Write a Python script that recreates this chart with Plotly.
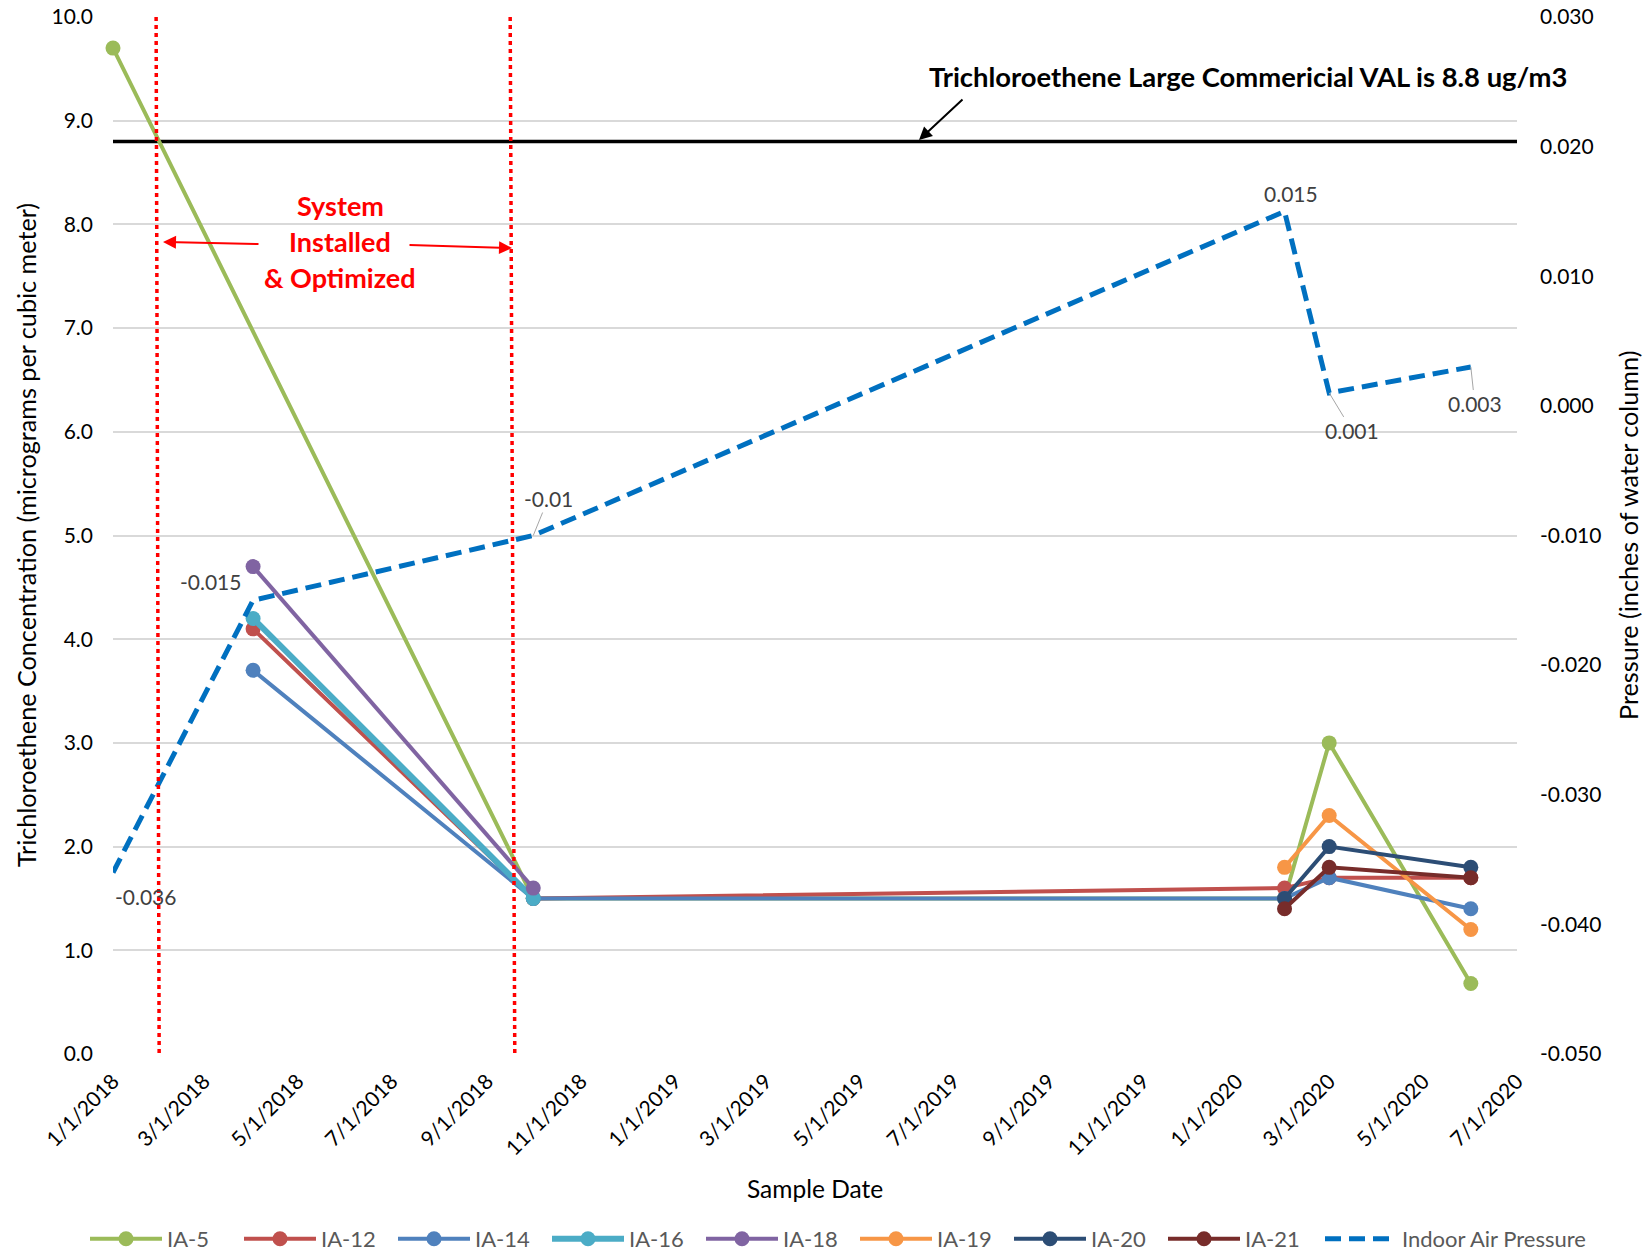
import plotly.graph_objects as go

# ---- sample data -------------------------------------------------------
dates_ia5 = ["2018-01-01", "2018-10-01", "2020-02-01", "2020-03-01", "2020-06-01"]
ia5 = [9.7, 1.5, 1.5, 3.0, 0.68]

dates_mid = ["2018-04-02", "2018-10-01", "2020-02-01", "2020-03-01", "2020-06-01"]
ia12 = [4.1, 1.5, 1.6, 1.7, 1.7]
ia14 = [3.7, 1.5, 1.5, 1.7, 1.4]

dates_2018 = ["2018-04-02", "2018-10-01"]
ia16 = [4.2, 1.5]
ia18 = [4.7, 1.6]

dates_2020 = ["2020-02-01", "2020-03-01", "2020-06-01"]
ia19 = [1.8, 2.3, 1.2]
ia20 = [1.5, 2.0, 1.8]
ia21 = [1.4, 1.8, 1.7]

pressure_dates = ["2018-01-01", "2018-04-02", "2018-10-01",
                  "2020-02-01", "2020-03-01", "2020-06-01"]
pressure = [-0.036, -0.015, -0.01, 0.015, 0.001, 0.003]

val_limit = 8.8
x_range = ["2018-01-01", "2020-07-01"]
system_window = [["2018-01-29", "2018-01-31"], ["2018-09-16", "2018-09-19"]]

left_ticks = [0, 1, 2, 3, 4, 5, 6, 7, 8, 9, 10]
right_ticks = [-0.05, -0.04, -0.03, -0.02, -0.01, 0.0, 0.01, 0.02, 0.03]

FONT = "Lato, 'Open Sans', sans-serif"

series = [
    ("IA-5", dates_ia5, ia5, "#9BBB59", 4),
    ("IA-12", dates_mid, ia12, "#C0504D", 4),
    ("IA-14", dates_mid, ia14, "#4F81BD", 4),
    ("IA-16", dates_2018, ia16, "#4BACC6", 6),
    ("IA-18", dates_2018, ia18, "#8064A2", 4),
    ("IA-19", dates_2020, ia19, "#F79646", 4),
    ("IA-20", dates_2020, ia20, "#2C4D75", 4),
    ("IA-21", dates_2020, ia21, "#772C2A", 4),
]

fig = go.Figure()

# VAL reference line
fig.add_trace(go.Scatter(
    x=x_range, y=[val_limit, val_limit], mode="lines",
    line=dict(color="black", width=3.5), showlegend=False, hoverinfo="skip",
    cliponaxis=False,
))

for name, xs, ys, color, lw in series:
    fig.add_trace(go.Scatter(
        x=xs, y=ys, name=name, mode="lines+markers",
        line=dict(color=color, width=lw),
        marker=dict(color=color, size=15),
        cliponaxis=False, legend="legend",
    ))

fig.add_trace(go.Scatter(
    x=pressure_dates, y=pressure, name="Indoor Air Pressure", mode="lines",
    line=dict(color="#0070C0", width=5, dash="16px,8px"),
    yaxis="y2", cliponaxis=False, legend="legend2",
))

# pressure value labels
label_style = dict(font=dict(family=FONT, size=21, color="#404040"))
plain_offsets = {0: (32, -24), 1: (-43, 19), 3: (6, 18)}
leader_offsets = {2: (15, -37), 4: (23, 38), 5: (4, 37)}
for i, (d, p) in enumerate(zip(pressure_dates, pressure)):
    txt = f"{p:g}"
    if i in plain_offsets:
        dx, dy = plain_offsets[i]
        fig.add_annotation(x=d, y=p, xref="x", yref="y2", text=txt,
                           showarrow=False, xshift=dx, yshift=dy,
                           xanchor="center", yanchor="middle", **label_style)
    else:
        dx, dy = leader_offsets[i]
        fig.add_annotation(x=d, y=p, xref="x", yref="y2", text=txt,
                           showarrow=True, arrowhead=0, arrowwidth=1,
                           arrowcolor="#A6A6A6", ax=dx, ay=dy, **label_style)

# system installation window
for top, bottom in system_window:
    fig.add_shape(type="line", xref="x", yref="y", x0=top, x1=bottom, y0=10, y1=-0.05,
                  line=dict(color="#FF0000", width=3.5, dash="4px,4px"))

L, R, T, B = 113, 135, 17, 200
W, H = 1652, 1254
pw, ph = W - L - R, H - T - B


def px(xp):
    return (xp - L) / pw


def py(yp):
    return (H - B - yp) / ph


def note(text, xp, yp, font, angle=0):
    fig.add_annotation(x=px(xp), y=py(yp), xref="paper", yref="paper", text=text,
                       showarrow=False, xanchor="center", yanchor="middle",
                       textangle=angle, font=font)


red_font = dict(family=FONT, size=27, color="#FF0000")
for txt, yp in [("<b>System</b>", 206), ("<b>Installed</b>", 241), ("<b>&amp; Optimized</b>", 278)]:
    note(txt, 340, yp, red_font)

fig.add_annotation(x=px(163), y=py(242), xref="paper", yref="paper", text="",
                   showarrow=True, arrowhead=2, arrowsize=1.3, arrowwidth=2,
                   arrowcolor="#FF0000", ax=97, ay=2)
fig.add_annotation(x=px(512), y=py(248), xref="paper", yref="paper", text="",
                   showarrow=True, arrowhead=2, arrowsize=1.3, arrowwidth=2,
                   arrowcolor="#FF0000", ax=-104, ay=-3)

note("<b>Trichloroethene Large Commericial VAL is 8.8 ug/m3</b>", 1248, 76,
     dict(family=FONT, size=27.4, color="black"))
fig.add_annotation(x=px(919), y=py(140), xref="paper", yref="paper", text="",
                   showarrow=True, arrowhead=2, arrowsize=1.3, arrowwidth=2,
                   arrowcolor="black", ax=45, ay=-42)

# axis titles
note("Sample Date", 815, 1188, dict(family=FONT, size=24.5, color="black"))
note("Trichloroethene Concentration (micrograms per cubic meter)", 26, 535,
     dict(family=FONT, size=25.2, color="black"), -90)
note("Pressure (inches of water column)", 1628, 536,
     dict(family=FONT, size=25.2, color="black"), -90)

tick_font = dict(family=FONT, size=21, color="black")
legend_font = dict(family=FONT, size=22, color="#595959")

fig.update_layout(
    width=W, height=H,
    margin=dict(l=L, r=R, t=T, b=B, autoexpand=False),
    paper_bgcolor="white", plot_bgcolor="white",
    font=dict(family=FONT),
    xaxis=dict(
        type="date", range=x_range, tick0="2018-01-01", dtick="M2",
        tickformat="%-m/%-d/%Y", tickangle=-45, tickfont=tick_font,
        showgrid=False, zeroline=False, showline=False, ticks="",
        ticklabelstandoff=10, automargin=False,
    ),
    yaxis=dict(
        range=[0, 10], tickvals=left_ticks, ticktext=[f"{v:.1f}" for v in left_ticks],
        tickfont=tick_font, gridcolor="#D9D9D9", gridwidth=1.5,
        zeroline=False, showline=False, ticks="", ticklabelstandoff=19,
        automargin=False,
    ),
    yaxis2=dict(
        overlaying="y", side="right", range=[-0.05, 0.03],
        tickvals=right_ticks, ticktext=[f"{v:.3f}" for v in right_ticks],
        tickfont=tick_font, showgrid=False, zeroline=False, showline=False,
        ticks="", ticklabelstandoff=22, automargin=False,
    ),
    legend=dict(
        orientation="h", x=px(85), y=py(1239), xanchor="left", yanchor="middle",
        font=legend_font, itemwidth=72, entrywidth=67, traceorder="normal",
    ),
    legend2=dict(
        orientation="h", x=px(1320), y=py(1239), xanchor="left", yanchor="middle",
        font=legend_font, itemwidth=72,
    ),
    showlegend=True,
)

fig.write_html("out.html")
